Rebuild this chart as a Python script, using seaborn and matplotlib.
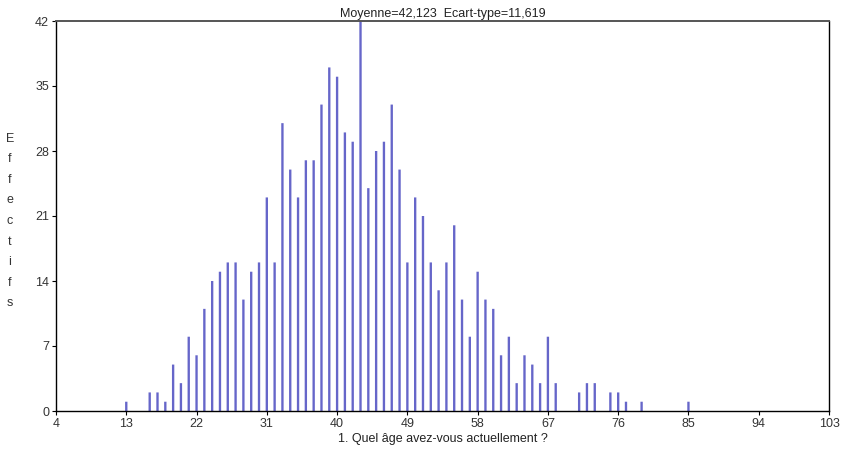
import numpy as np
import pandas as pd
import matplotlib
matplotlib.use("Agg")
import matplotlib.pyplot as plt
import seaborn as sns

ages = [13, 16, 17, 18, 19, 20, 21, 22, 23, 24, 25, 26, 27, 28, 29, 30,
        31, 32, 33, 34, 35, 36, 37, 38, 39, 40, 41, 42, 43, 44, 45, 46,
        47, 48, 49, 50, 51, 52, 53, 54, 55, 56, 57, 58, 59, 60, 61, 62,
        63, 64, 65, 66, 67, 68, 71, 72, 73, 75, 76, 77, 79, 85]
counts = [1, 2, 2, 1, 5, 3, 8, 6, 11, 14, 15, 16, 16, 12, 15, 16,
          23, 16, 31, 26, 23, 27, 27, 33, 37, 36, 30, 29, 42, 24, 28, 29,
          33, 26, 16, 23, 21, 16, 13, 16, 20, 12, 8, 15, 12, 11, 6, 8,
          3, 6, 5, 3, 8, 3, 2, 3, 3, 2, 2, 1, 1, 1]
x_ticks = [4, 13, 22, 31, 40, 49, 58, 67, 76, 85, 94, 103]
y_ticks = [0, 7, 14, 21, 28, 35, 42]
title = "Moyenne=42,123  Ecart-type=11,619"
xlabel = "1. Quel âge avez-vous actuellement ?"
ylabel = "Effectifs"

df = pd.DataFrame({"age": ages, "n": counts})

sns.set_style("white")
plt.rcParams["font.family"] = ["Liberation Sans", "DejaVu Sans"]

fig = plt.figure(figsize=(8.66, 4.66), dpi=100)
ax = fig.add_axes([56 / 866, 1 - 411 / 466, (829 - 56) / 866, (411 - 21) / 466])

sns.histplot(data=df, x="age", weights="n", discrete=True, shrink=0.3,
             color="#4b4bc0", alpha=0.85, linewidth=0, ax=ax)
for p in ax.patches:
    p.set_snap(False)

ax.set_xlim(4, 103)
ax.set_ylim(0, 42)
ax.set_xticks(x_ticks)
ax.set_yticks(y_ticks)
ax.tick_params(axis="both", which="both", direction="out", length=3, width=0.8,
               colors="black", labelcolor="#333333", labelsize=9,
               bottom=True, left=True, pad=2)
for s in ax.spines.values():
    s.set_visible(True)
    s.set_color("black")
    s.set_linewidth(1.0)
ax.spines["top"].set_color("#555555")
ax.spines["top"].set_linewidth(1.4)

ax.set_xlabel(xlabel, fontsize=9, color="#222222", labelpad=2)
ax.set_ylabel("")
ax.set_title(title, fontsize=9, color="#222222", pad=3)

fig.text(10 / 866, 1 - 221 / 466, "\n".join(list(ylabel)), ha="center", va="center",
         fontsize=9, color="#333333", linespacing=1.95)

fig.savefig("out.png", dpi=100)
